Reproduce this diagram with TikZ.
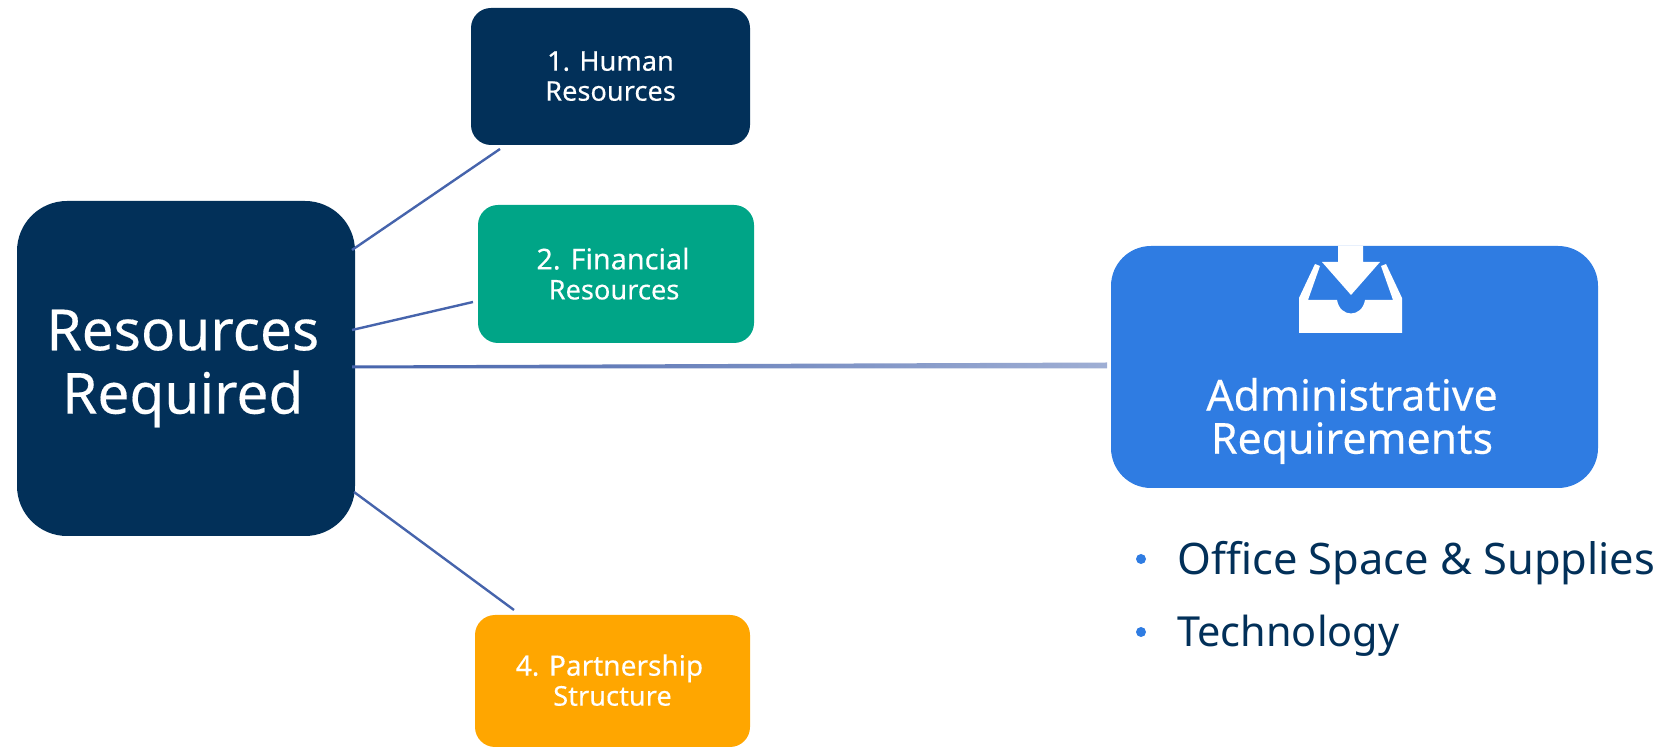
\documentclass[tikz,border=0pt]{standalone}
\usepackage{fontspec}
\setmainfont{Noto Sans}[BoldFont={Noto Sans},BoldFeatures={FakeBold=0.25}]
\definecolor{navy}{HTML}{023059}
\definecolor{teal2}{HTML}{00A587}
\definecolor{amber}{HTML}{FFA600}
\definecolor{blue2}{HTML}{2F7CE2}
\definecolor{linkc}{HTML}{4664AC}
\tikzset{
 bx/.style={fill=#1,draw=none,text=white,align=center,inner sep=0pt},
 small/.style={font=\fontsize{13.6}{15}\selectfont\bfseries},
 link/.style={draw=linkc,line width=1.2pt},
 listtxt/.style={anchor=west,text=navy,inner sep=0pt},
 dotb/.style={fill=blue2}
}
\begin{document}
\begin{tikzpicture}[x=0.5pt,y=-0.5pt]
\useasboundingbox (0,0) rectangle (1665,747);
\node[bx=navy,rounded corners=25pt,minimum width=169pt,minimum height=167.5pt,font=\fontsize{28.4}{31.5}\selectfont\bfseries] (main) at (186,368.5) {\hspace*{-3.2pt}Resources\\\hspace*{-3.2pt}\raisebox{-0.2pt}{Required}};
\node[bx=navy,rounded corners=10pt,minimum width=139.5pt,minimum height=68.5pt,small] (hr) at (610.5,76.5) {\raisebox{0.5pt}{1. Human}\\\raisebox{0.5pt}{Resources}};
\node[bx=teal2,rounded corners=10pt,minimum width=138pt,minimum height=69pt,small] (fin) at (616,274) {\hspace*{-3pt}\raisebox{0.5pt}{\fontsize{14.4}{15}\selectfont\bfseries 2. Financial}\\\hspace*{-2pt}\raisebox{0.5pt}{Resources}};
\node[bx=amber,rounded corners=10pt,minimum width=137.5pt,minimum height=66pt,small] (par) at (612.5,681) {\hspace*{-3pt}\raisebox{1pt}{\fontsize{14}{15}\selectfont\bfseries 4. Partnership}\\\raisebox{1pt}{Structure}};
\node[bx=blue2,rounded corners=20pt,minimum width=243.5pt,minimum height=121pt] (adm) at (1354.5,367) {};
\node[text=white,align=center,font=\fontsize{21.4}{21.6}\selectfont\bfseries,inner sep=0pt] (admt) at (1352,421) {Administrative\\Requirements};
% icon
\fill[white] (1338,246) -- (1338,262) -- (1322,262) -- (1351,295) -- (1380,262) -- (1363,262) -- (1363,246) -- cycle;
\fill[white] (1299,333) -- (1299,298) -- (1315,264) -- (1320,266) -- (1308,300) -- (1337,300) .. controls (1340,318) and (1362,318) .. (1365,300) -- (1393,300) -- (1381,266) -- (1386,264) -- (1402,298) -- (1402,333) -- cycle;
\coordinate (hrend) at (500,149);
\coordinate (finend) at (473,302);
\coordinate (parend) at (514,610);
\coordinate (m1) at (352,250);
\coordinate (m2) at (352,330);
\coordinate (m4) at (354,492);
\draw[link] (m1) -- (hrend);
\draw[link] (m2) -- (finend);
\draw[link] (m4) -- (parend);
\shade[left color=linkc,right color=linkc!52!white] (352,365.5) -- (1107,362.5) -- (1107,368.5) -- (352,368.5) -- cycle;
\node[listtxt,font=\fontsize{21.7}{24}\selectfont] (l1) at (1177,563) {Office Space \& Supplies};
\node[listtxt,font=\fontsize{20.7}{24}\selectfont] (l2) at (1177,636) {Technology};
\fill[dotb] (1141,559) circle (5);
\fill[dotb] (1141,632) circle (5);
\end{tikzpicture}
\end{document}
